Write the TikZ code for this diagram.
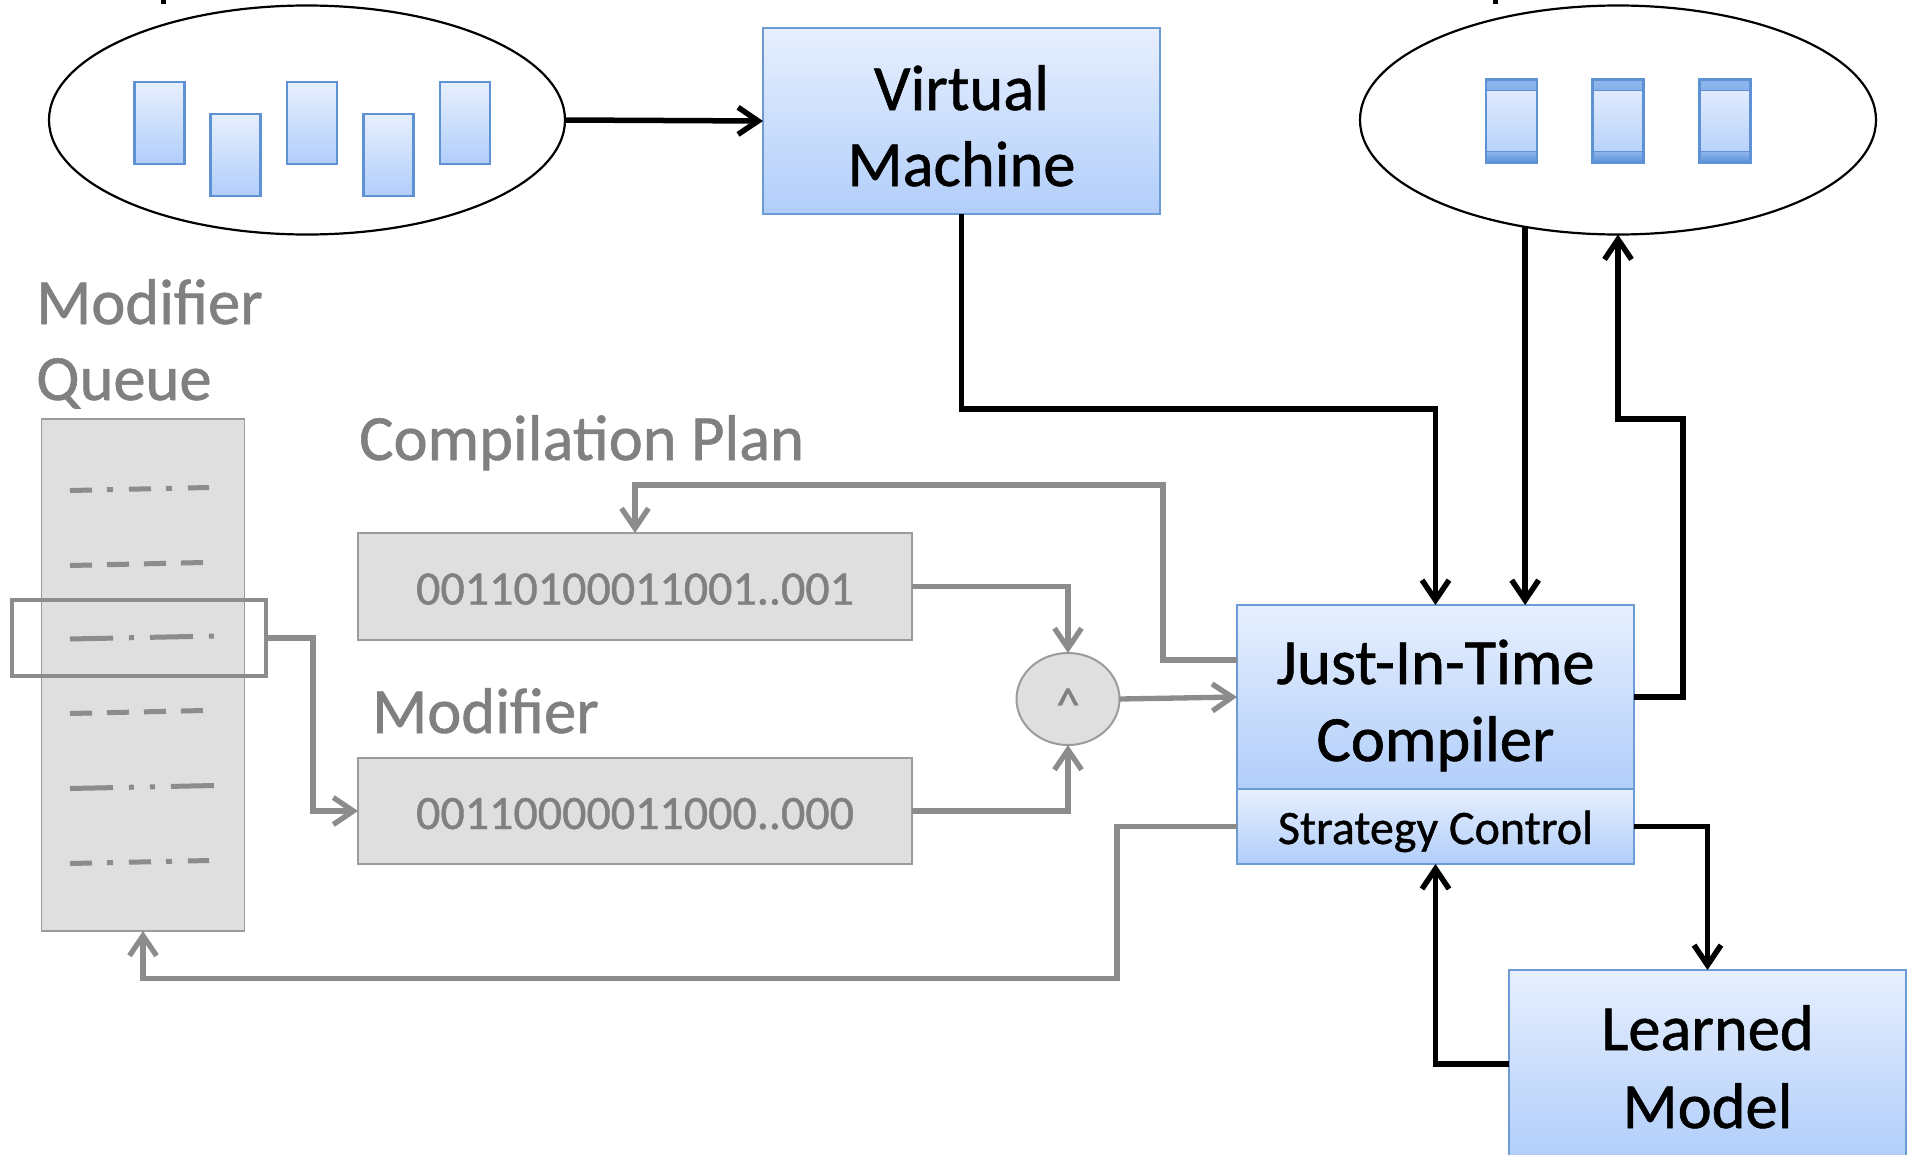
\documentclass[tikz,border=0pt]{standalone}
\usepackage{fontspec}
\setmainfont{Carlito}[FakeBold=0.9]
\usetikzlibrary{arrows.meta,shapes.geometric,calc}
\definecolor{bluetop}{RGB}{231,239,254}
\definecolor{bluebot}{RGB}{177,206,250}
\definecolor{blueborder}{RGB}{108,155,213}
\definecolor{rectborder}{RGB}{95,146,212}
\definecolor{barT}{RGB}{143,182,236}
\definecolor{barB}{RGB}{92,146,218}
\definecolor{grayfill}{RGB}{223,223,223}
\definecolor{grayborder}{RGB}{155,155,155}
\definecolor{grayline}{RGB}{140,140,140}
\definecolor{graytext}{RGB}{128,128,128}
\begin{document}
\begin{tikzpicture}[x=1pt,y=-1pt,
  bigfont/.style={font=\fontsize{64.5}{76}\selectfont},
  bluebox/.style={draw=blueborder,line width=1.8pt,top color=bluetop,bottom color=bluebot,inner sep=0pt,outer sep=0pt},
  minirect/.style={draw=rectborder,line width=2.2pt,top color=bluetop,bottom color=bluebot,minimum width=50pt,minimum height=82pt,inner sep=0pt},
  docrect/.style={draw=rectborder,line width=2.2pt,top color=bluetop,bottom color=bluebot,minimum width=51pt,minimum height=83pt,inner sep=0pt,
    path picture={
      \fill[top color=barT,bottom color=barB] (path picture bounding box.north west) rectangle ([yshift=-11pt]path picture bounding box.north east);
      \fill[top color=barT,bottom color=barB] ([yshift=11pt]path picture bounding box.south west) rectangle (path picture bounding box.south east);
      \draw[rectborder,line width=1.5pt] ([yshift=-11pt]path picture bounding box.north west) -- ([yshift=-11pt]path picture bounding box.north east);
      \draw[rectborder,line width=1.5pt] ([yshift=11pt]path picture bounding box.south west) -- ([yshift=11pt]path picture bounding box.south east);
    }},
  cloud/.style={ellipse,draw=black,line width=2.2pt,minimum width=516pt,minimum height=229pt,inner sep=0pt,outer sep=0pt},
  graybox/.style={draw=grayborder,fill=grayfill,line width=1.8pt,inner sep=0pt,outer sep=0pt},
  gtext/.style={text=graytext,font=\fontsize{64.5}{76}\selectfont,inner sep=0pt},
  bintext/.style={text=graytext,font=\fontsize{48}{56}\selectfont,text height=36pt,text depth=0pt},
  blk/.style={draw=black,line width=5.5pt,-{Straight Barb[length=20pt,width=27pt]}},
  gl/.style={draw=grayline,line width=5.3pt,-{Straight Barb[length=20pt,width=27pt]}},
  qdash/.style={draw=grayline,line width=5pt},
]
\useasboundingbox (0,0) rectangle (1916,1154);
\fill[white] (0,0) rectangle (1916,1154);

% cut-off fragments at the top edge
\fill[black] (161,0) rectangle (166,4);
\fill[black] (1493,0) rectangle (1498,4);

% left ellipse with blocks
\node[cloud] (lel) at (307,120) {};
\node[minirect] (r1) at (159.5,123) {};
\node[minirect] (r2) at (235.5,155) {};
\node[minirect] (r3) at (312,123) {};
\node[minirect] (r4) at (388.5,155) {};
\node[minirect] (r5) at (465,123) {};

% right ellipse with blocks
\node[cloud] (rel) at (1618,120) {};
\node[docrect] (d1) at (1511.5,121) {};
\node[docrect] (d2) at (1618,121) {};
\node[docrect] (d3) at (1725,121) {};

% Virtual machine
\node[bluebox,minimum width=397pt,minimum height=186pt] (vm) at (961.5,121) {};
\node[bigfont,anchor=base,inner sep=0pt] (vmt1) at (961.5,110) {Virtual};
\node[bigfont,anchor=base,inner sep=0pt] (vmt2) at (961.5,186) {Machine};

% JIT compiler
\node[bluebox,minimum width=397pt,minimum height=184pt] (jit) at (1435.5,697) {};
\node[bigfont,anchor=base,inner sep=0pt] (jitt1) at (1435.5,684) {Just-In-Time};
\node[bigfont,anchor=base,inner sep=0pt] (jitt2) at (1435.5,761) {Compiler};
\node[bluebox,minimum width=397pt,minimum height=75pt,font=\fontsize{48}{56}\selectfont,text height=35pt,text depth=0pt] (sc) at (1435.5,826.5) {Strategy Control};

% Learned model
\node[bluebox,minimum width=397pt,minimum height=188pt] (lm) at (1707.5,1064) {};
\node[bigfont,anchor=base,inner sep=0pt] (lmt1) at (1707.5,1050) {Learned};
\node[bigfont,anchor=base,inner sep=0pt] (lmt2) at (1707.5,1128) {Model};

% Modifier queue
\node[gtext,anchor=base west] (lq1) at (36,324) {Modifier};
\node[gtext,anchor=base west] (lq2) at (36,400) {Queue};
\node[graybox,minimum width=203pt,minimum height=512pt] (mq) at (143,675) {};
\draw[qdash,dash pattern=on 22pt off 15pt on 6pt off 16pt] (70,490.5) -- (209,487.5);
\draw[qdash,dash pattern=on 22pt off 15pt] (70,565.5) -- (204,562.5);
\draw[qdash,dash pattern=on 43pt off 16pt on 5pt off 16pt] (70,639) -- (214,636);
\draw[qdash,dash pattern=on 22pt off 15pt] (70,713.5) -- (204,710.5);
\draw[qdash,dash pattern=on 43pt off 16pt on 5pt off 16pt on 5pt off 16pt on 43pt off 60pt] (70,788.5) -- (214,785.5);
\draw[qdash,dash pattern=on 22pt off 15pt on 6pt off 16pt] (70,863.5) -- (209,860.5);
\node[draw=grayline,line width=4.8pt,minimum width=254pt,minimum height=76pt,inner sep=0pt,outer sep=0pt] (hl) at (139,638) {};

% compilation plan and modifier
\node[gtext,anchor=base west] (lcp) at (359,460) {Compilation Plan};
\node[graybox,bintext,minimum width=554pt,minimum height=107pt] (cp) at (635,586.5) {00110100011001..001};
\node[gtext,anchor=base west] (lmod) at (372,733) {Modifier};
\node[graybox,bintext,minimum width=554pt,minimum height=106pt] (mod) at (635,811) {00110000011000..000};

% and-operator
\node[ellipse,draw=grayborder,fill=grayfill,line width=2pt,minimum width=103pt,minimum height=92pt,inner sep=0pt,outer sep=0pt] (circ) at (1068,699) {};
\node[text=graytext,font=\fontsize{48}{56}\selectfont,anchor=base,inner sep=0pt] (caret) at (1068,721) {\textasciicircum};

% black connectors
\draw[blk] (lel.east) -- (vm.west);
\draw[blk] (vm.south) -- ++(0,195) -| (jit.north);
\draw[blk] (rel.229.6) -- (rel.229.6 |- jit.north);
\draw[blk] (jit.east) -- ++(49,0) -- ++(0,-278) -| (rel.south);
\draw[blk] (sc.east) -| (lm.north);
\draw[blk] (lm.west) -| (sc.south);

% gray connectors
\draw[gl] (cp.east) -| (circ.north);
\draw[gl] (mod.east) -| (circ.south);
\draw[gl] (circ.east) -- (jit.west);
\draw[gl] ([yshift=37pt]jit.west) -- ++(-74,0) -- ++(0,-175) -| (cp.north);
\draw[gl] (sc.west) -- ++(-120,0) -- ++(0,152) -| (mq.south);
\draw[gl] (hl.east) -- ++(47,0) |- (mod.west);
\end{tikzpicture}
\end{document}
